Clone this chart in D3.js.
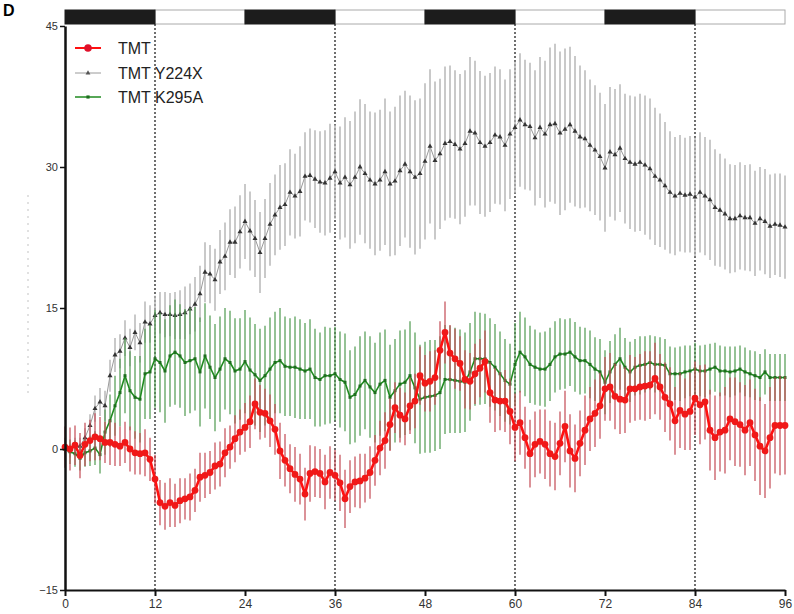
<!DOCTYPE html>
<html>
<head>
<meta charset="utf-8">
<script src="https://cdn.jsdelivr.net/npm/d3@7"></script>
<style>
  body { margin: 0; background: #fff; }
  svg { display: block; font-family: Arial, "Liberation Sans", sans-serif; }
</style>
</head>
<body>
<svg width="794" height="614"></svg>
<script>
// one point every 40 min, 0 - 96 h
var hours = d3.range(0, 145).map(i => i * 2 / 3)
var xTicks = [0, 12, 24, 36, 48, 60, 72, 84, 96]
var yTicks = [-15, 0, 15, 30, 45]
var darkPhases = [[0, 12], [24, 36], [48, 60], [72, 84]]
var lightPhases = [[12, 24], [36, 48], [60, 72], [84, 96]]
var transitions = [12, 36, 60, 84]
var names = ["TMT", "TMT Y224X", "TMT K295A"]

var tmt = [0.2,0.0,0.4,-0.7,0.5,0.9,1.3,1.1,0.7,0.7,0.5,0.3,0.7,0.0,-0.4,-0.5,-0.4,-1.1,
  -3.2,-5.7,-6.1,-5.7,-6.0,-5.5,-5.3,-5.1,-4.4,-3.0,-2.8,-2.5,-1.8,-1.6,-0.4,0.2,1.1,1.8,
  2.3,2.9,4.8,3.9,3.8,3.0,2.1,-0.2,-1.2,-2.1,-2.7,-3.2,-4.8,-2.6,-2.4,-2.6,-3.5,-2.5,
  -2.8,-3.6,-5.3,-4.0,-3.5,-3.4,-3.1,-2.5,-1.2,0.1,0.9,2.6,4.4,3.6,3.2,4.6,5.1,7.8,
  7.0,7.2,7.6,10.5,12.4,10.2,9.6,9.1,7.4,7.2,8.0,8.6,9.3,6.0,5.2,5.1,5.1,4.0,
  2.3,2.8,1.2,-0.5,0.5,0.8,0.5,-0.5,-0.8,0.6,2.4,-0.2,-1.0,0.6,2.0,3.2,3.8,4.6,
  6.4,6.6,5.6,5.3,5.2,6.4,6.4,6.6,6.7,6.8,7.5,6.6,5.5,4.8,3.0,4.1,3.7,4.0,
  5.4,4.7,5.0,2.0,1.2,1.8,2.0,3.2,2.9,2.6,2.0,2.8,1.5,0.3,-0.2,1.2,2.5,2.5,2.5]
var tmtErr = [2.2,2.3,2.1,2.4,2.3,2.2,2.5,2.3,2.2,2.4,2.3,2.1,2.2,2.4,2.3,2.2,2.5,2.3,
  2.6,2.4,2.5,2.6,2.3,2.4,2.2,2.5,2.3,2.6,2.4,2.3,2.5,2.4,2.6,2.3,2.5,2.4,
  2.6,2.8,2.7,2.9,2.6,2.8,2.7,3.0,2.8,2.6,2.9,2.7,2.8,3.0,2.7,2.6,2.9,2.8,
  2.7,3.0,3.1,2.8,2.7,2.9,2.6,2.8,2.7,2.9,3.0,2.8,2.7,2.9,2.8,3.0,2.9,3.1,
  3.0,3.2,2.9,3.1,3.3,3.0,3.2,2.9,3.1,3.0,3.2,3.1,3.3,3.2,3.4,3.1,3.3,3.5,
  3.6,3.4,3.3,3.6,3.5,3.4,3.7,3.5,3.6,3.4,3.8,3.9,3.6,3.5,3.7,3.4,3.6,3.5,
  3.4,3.6,3.5,3.7,3.5,3.6,3.4,3.5,3.7,3.6,3.8,3.5,3.7,3.9,3.6,4.0,3.8,4.1,
  3.9,4.2,4.0,4.3,4.5,4.2,4.6,4.4,4.7,4.5,4.8,4.6,4.9,5.2,5.0,5.4,5.1,5.3,5.2]

var y224x = [0.0,-0.2,0.4,0.3,1.2,2.5,4.3,5.0,4.6,7.8,10.0,10.4,11.8,10.8,12.4,11.3,13.5,13.3,
  14.2,14.5,14.3,14.3,14.2,14.3,14.5,14.9,15.4,16.5,18.8,18.6,18.0,19.9,20.5,22.0,22.0,23.1,
  24.2,23.2,22.4,20.9,22.4,23.9,24.9,25.7,26.0,27.3,26.9,27.4,29.0,29.1,28.7,28.4,28.3,28.8,
  29.5,28.3,28.9,28.1,28.9,30.0,29.3,28.6,28.2,28.6,29.5,28.2,28.5,29.6,30.3,29.5,28.9,29.3,
  30.6,32.2,30.7,31.4,32.5,32.7,32.4,31.9,32.5,33.8,33.6,32.6,32.2,32.6,33.4,33.2,32.3,33.5,
  34.2,35.0,34.5,34.3,33.1,34.2,33.5,34.5,34.6,33.6,34.0,34.5,33.8,33.2,33.0,32.3,31.8,31.1,
  29.9,31.6,31.3,32.0,30.9,30.5,30.3,30.5,30.2,29.8,29.0,28.6,28.0,27.3,26.9,27.2,27.0,27.1,
  26.8,27.3,26.9,26.5,25.7,25.4,25.0,24.5,24.5,24.8,24.6,24.6,24.0,24.5,24.2,23.7,23.9,23.8,23.6]
var y224xErr = [0.6,0.7,0.8,0.9,1.0,1.2,1.4,1.5,1.6,1.7,1.8,1.8,1.9,2.0,1.9,2.1,2.2,2.0,
  2.1,2.2,2.4,2.3,2.5,2.6,2.8,2.7,2.9,3.0,3.2,3.1,3.3,3.4,3.6,3.5,3.8,3.9,
  4.0,4.2,4.1,4.3,4.2,4.4,4.3,4.5,4.4,4.6,4.5,4.8,4.7,5.0,5.2,5.4,5.6,5.8,
  5.0,6.0,6.4,6.8,7.0,7.2,7.4,7.3,7.6,7.5,7.8,7.7,7.9,8.0,7.8,8.1,8.2,8.0,
  8.3,8.2,8.4,8.0,8.2,8.1,7.9,8.0,7.8,7.9,7.7,7.6,7.5,7.4,7.3,7.2,7.0,6.9,
  7.0,7.1,6.9,6.8,7.2,7.5,7.8,8.2,8.5,8.7,8.6,8.3,8.0,7.6,7.3,7.0,6.9,6.8,
  6.8,6.9,7.0,6.8,6.9,7.1,7.2,7.3,7.4,7.5,7.3,7.1,6.8,6.5,6.3,6.2,6.1,6.2,
  6.3,6.4,6.3,6.4,6.2,6.0,5.9,5.8,5.7,5.7,5.6,5.7,5.6,5.5,5.6,5.5,5.4,5.5,5.5]

var k295a = [0.0,-0.3,-0.5,-1.0,-0.4,-0.2,0.1,-0.6,1.8,3.0,4.6,6.0,7.8,6.2,5.5,5.3,8.0,8.2,
  9.6,9.2,8.3,9.9,10.3,9.9,9.2,9.4,9.6,8.2,9.9,8.7,7.6,8.5,9.6,9.2,8.3,8.5,
  9.3,8.4,7.9,7.3,7.8,8.5,9.2,9.4,8.8,8.7,8.7,8.5,8.3,8.5,7.6,7.4,7.8,7.8,
  8.0,7.4,7.1,5.5,5.8,6.7,7.3,6.6,6.0,6.9,7.3,5.5,6.2,6.9,7.1,7.8,6.5,5.3,
  5.5,5.6,5.7,6.0,7.4,7.4,7.3,7.2,7.1,8.2,9.6,9.6,9.6,9.2,8.7,8.0,7.3,6.9,
  9.0,10.3,9.8,9.0,8.7,8.5,8.5,9.0,9.8,10.1,10.1,10.3,9.8,9.4,9.4,9.0,8.5,8.2,
  7.1,8.2,9.0,9.6,8.7,8.2,8.7,8.9,9.0,9.2,9.0,9.0,8.9,8.0,8.0,8.0,8.2,8.3,
  8.5,8.3,8.3,8.5,8.7,8.3,8.3,8.2,8.3,8.5,8.2,8.0,7.8,7.6,8.2,7.6,7.6,7.6,7.6]
var k295aErr = [1.2,1.3,1.4,1.3,1.5,1.6,1.8,2.0,2.4,2.8,3.2,3.6,4.0,4.2,4.4,4.6,4.8,5.0,
  5.2,5.3,5.5,5.4,5.6,5.5,5.7,5.6,5.5,5.8,5.6,5.5,5.7,5.6,5.4,5.5,5.6,5.4,
  5.5,5.6,5.4,5.5,5.3,5.5,5.4,5.6,5.3,5.2,5.4,5.3,5.1,5.3,5.2,5.0,5.2,5.1,
  5.0,5.1,5.2,5.0,5.1,5.3,5.2,5.4,5.3,5.5,5.4,5.6,5.5,5.7,5.6,5.8,5.9,5.8,
  5.9,6.0,5.9,6.0,5.8,5.7,5.6,5.5,5.3,5.2,5.0,4.9,4.8,4.7,4.6,4.5,4.4,4.3,
  4.4,4.3,4.2,4.1,4.0,3.9,4.0,3.9,3.8,3.8,3.7,3.6,3.7,3.6,3.5,3.6,3.4,3.5,
  3.4,3.3,3.2,3.3,3.1,3.2,3.0,3.1,3.0,2.9,3.0,2.9,2.8,2.9,2.8,2.9,2.8,2.7,
  2.8,2.7,2.8,2.7,2.6,2.7,2.6,2.7,2.6,2.5,2.6,2.5,2.6,2.5,2.4,2.5,2.5,2.5,2.5]

var svg = d3.select('svg')
var margin = {left: 65, right: 9, top: 26, bottom: 24}
var width = 794, height = 614

var x = d3.scaleLinear().domain([0, 96]).range([margin.left, width - margin.right])
var y = d3.scaleLinear().domain([-15, 45]).range([height - margin.bottom, margin.top])

// panel letter in the corner
svg.append("text").attr("x", 3).attr("y", 16)
  .attr("font-size", 16).attr("font-weight", "bold").text("D")

// light/dark bar
var barTop = 10, barH = 14
svg.append("g").selectAll("rect").data(lightPhases).enter().append("rect")
  .attr("x", d => x(d[0])).attr("width", d => x(d[1]) - x(d[0]))
  .attr("y", barTop).attr("height", barH)
  .attr("fill", "#fff").attr("stroke", "#aaa").attr("stroke-width", 1)
svg.append("g").selectAll("rect").data(darkPhases).enter().append("rect")
  .attr("x", d => x(d[0])).attr("width", d => x(d[1]) - x(d[0]))
  .attr("y", barTop).attr("height", barH)
  .attr("fill", "#1c1c1c").attr("stroke", "#1c1c1c").attr("stroke-width", 1)

// dotted lines at light changes
svg.append("g").selectAll("line").data(transitions).enter().append("line")
  .attr("x1", d => x(d)).attr("x2", d => x(d))
  .attr("y1", barTop + barH).attr("y2", y(-15))
  .attr("stroke", "#222").attr("stroke-width", 1.3).attr("stroke-dasharray", "2,2")

var series = [
  {name: names[1], values: y224x, err: y224xErr, line: "#9a9a9a", lw: 1, bar: "#b4b4b4", barOp: 0.95, mark: "#333", shape: "tri", size: 11},
  {name: names[2], values: k295a, err: k295aErr, line: "#1f8a1f", lw: 1.6, bar: "#4f9a4f", barOp: 0.8, mark: "#1d6e1d", shape: "sq", size: 9},
  {name: names[0], values: tmt, err: tmtErr, line: "#ff1010", lw: 2.6, bar: "#c44a55", barOp: 0.8, mark: "#f01818", shape: "dot", size: 36}
]

var line = d3.line()
  .x((d, i) => x(hours[i]))
  .y(d => y(d))

series.forEach(s => {
  var g = svg.append("g")
  g.selectAll("line").data(s.values).enter().append("line")
    .attr("x1", (d, i) => x(hours[i])).attr("x2", (d, i) => x(hours[i]))
    .attr("y1", (d, i) => y(d + s.err[i])).attr("y2", (d, i) => y(d - s.err[i]))
    .attr("stroke", s.bar).attr("stroke-width", 1.5).attr("opacity", s.barOp)
  g.append("path").attr("d", line(s.values))
    .attr("fill", "none").attr("stroke", s.line).attr("stroke-width", s.lw)
    .attr("stroke-linejoin", "round")
  var sym = s.shape == "tri" ? d3.symbolTriangle : s.shape == "sq" ? d3.symbolSquare : d3.symbolCircle
  g.selectAll("path.m").data(s.values).enter().append("path")
    .attr("class", "m")
    .attr("transform", (d, i) => `translate(${x(hours[i])},${y(d)})`)
    .attr("d", d3.symbol().type(sym).size(s.size))
    .attr("fill", s.mark)
})

// axes
var xAxis = svg.append("g")
  .attr("transform", `translate(0,${y(-15)})`)
  .call(d3.axisBottom(x).tickValues(xTicks).tickSize(6).tickSizeOuter(0).tickPadding(3))
xAxis.select(".domain").attr("stroke", "#111").attr("stroke-width", 2)
xAxis.selectAll(".tick line").attr("stroke", "#111").attr("stroke-width", 2)
xAxis.selectAll("text").attr("font-size", 12).attr("fill", "#333")
  .attr("font-family", "Arial, 'Liberation Sans', sans-serif")

var yAxis = svg.append("g")
  .attr("transform", `translate(${x(0)},0)`)
  .call(d3.axisLeft(y).tickValues(yTicks).tickSize(5).tickSizeOuter(0).tickPadding(2))
yAxis.select(".domain").attr("stroke", "#111").attr("stroke-width", 2.5)
yAxis.selectAll(".tick line").attr("stroke", "#111").attr("stroke-width", 1.5)
yAxis.selectAll("text").attr("font-size", 11).attr("fill", "#333")
  .attr("font-family", "Arial, 'Liberation Sans', sans-serif")

// faint y title remains
svg.append("line").attr("x1", 28).attr("x2", 28).attr("y1", 195).attr("y2", 395)
  .attr("stroke", "#d8d8d8").attr("stroke-width", 1.5).attr("stroke-dasharray", "2,5")

// legend
var legendRows = [
  {name: names[0], y: 48, line: "#ff1010", lw: 2, mark: "#e0102a", shape: d3.symbolCircle, size: 45},
  {name: names[1], y: 73, line: "#9a9a9a", lw: 1, mark: "#555", shape: d3.symbolTriangle, size: 10},
  {name: names[2], y: 97, line: "#1f8a1f", lw: 1.5, mark: "#1d6e1d", shape: d3.symbolSquare, size: 10}
]
var leg = svg.append("g").selectAll("g").data(legendRows).enter().append("g")
  .attr("transform", d => `translate(0,${d.y})`)
leg.append("line").attr("x1", 75).attr("x2", 101)
  .attr("stroke", d => d.line).attr("stroke-width", d => d.lw)
leg.append("path").attr("transform", "translate(88,0)")
  .attr("d", d => d3.symbol().type(d.shape).size(d.size)())
  .attr("fill", d => d.mark)
leg.append("text").attr("x", 118).attr("y", 6)
  .attr("font-size", 16).attr("fill", "#222").text(d => d.name)
</script>
</body>
</html>
